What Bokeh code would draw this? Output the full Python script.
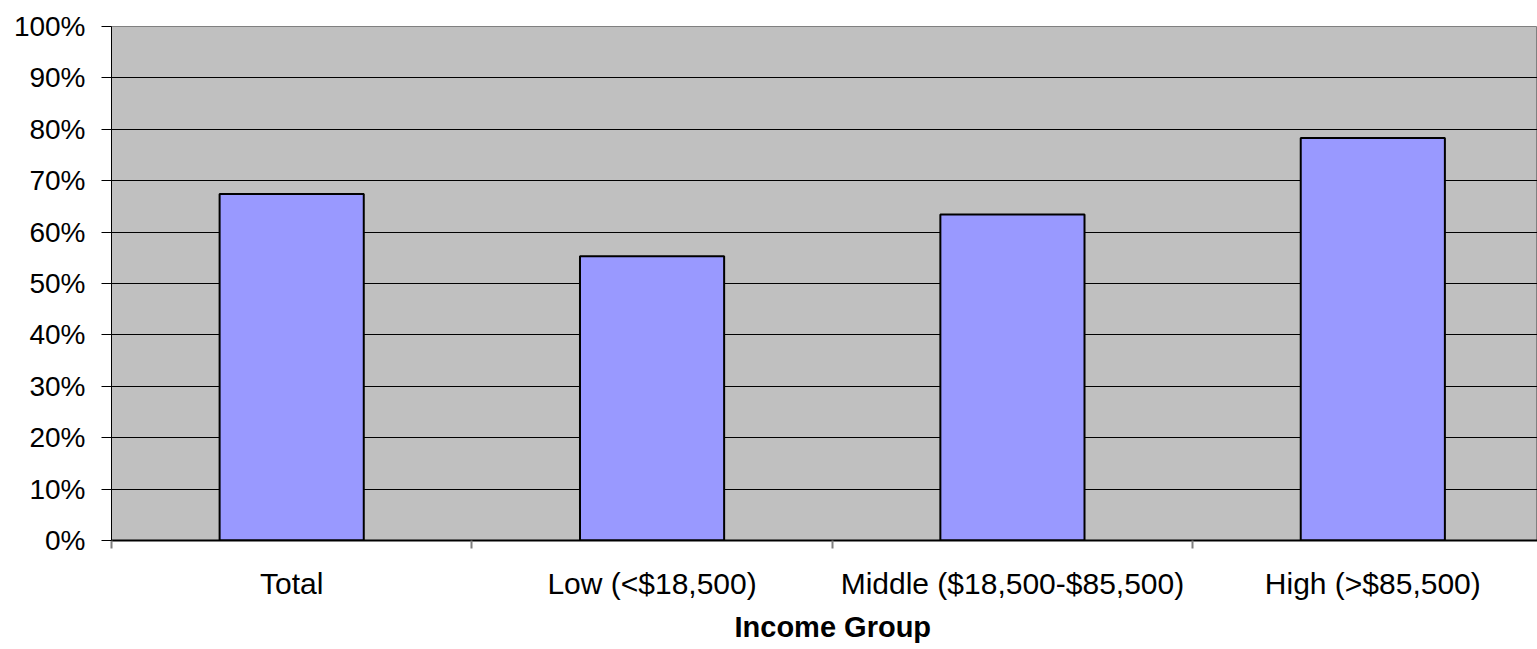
from bokeh.plotting import figure
from bokeh.models import FixedTicker, NumeralTickFormatter, Title, ColumnDataSource
from bokeh.embed import file_html
from bokeh.resources import INLINE

# Share of each income group (fraction of 1)
groups = ["Total", "Low (<$18,500)", "Middle ($18,500-$85,500)", "High (>$85,500)"]
shares = [0.674, 0.553, 0.634, 0.783]
y_ticks = [0.0, 0.1, 0.2, 0.3, 0.4, 0.5, 0.6, 0.7, 0.8, 0.9, 1.0]
x_title = "Income Group"

FONT = "Liberation Sans"

centers = [i + 0.5 for i in range(len(groups))]
src = ColumnDataSource(dict(x=centers, top=shares, name=groups))

p = figure(
    width=1537, height=649,
    x_range=(0, 3.957), y_range=(0, 1.0),
    output_backend="svg", toolbar_location=None,
    min_border_left=111, min_border_right=0,
    min_border_top=26, min_border_bottom=109,
    border_fill_color="white",
)
p.background_fill_color = "#C0C0C0"
p.outline_line_color = "#808080"
p.outline_line_width = 1

p.vbar(x="x", top="top", width=0.40, bottom=0, source=src,
       fill_color="#9999FF", line_color="black", line_width=2)

# Y axis
p.yaxis.ticker = FixedTicker(ticks=y_ticks)
p.yaxis.formatter = NumeralTickFormatter(format="0%")
p.yaxis.major_label_text_font = FONT
p.yaxis.major_label_text_font_size = "28px"
p.yaxis.major_label_text_color = "black"
p.yaxis.major_label_standoff = 16
p.yaxis.major_tick_out = 10
p.yaxis.major_tick_in = 0
p.yaxis.major_tick_line_color = "black"
p.yaxis.minor_tick_line_color = None
p.yaxis.axis_line_color = "black"
p.yaxis.axis_line_width = 1

# X axis: category labels at centers, boundary ticks as minor ticks
p.xaxis.ticker = FixedTicker(ticks=centers, minor_ticks=[0, 1, 2, 3, 4])
p.xaxis.major_label_overrides = {c: g for c, g in zip(centers, groups)}
p.xaxis.major_label_text_font = FONT
p.xaxis.major_label_text_font_size = "30px"
p.xaxis.major_label_text_color = "black"
p.xaxis.major_label_standoff = 18
p.xaxis.major_tick_line_color = None
p.xaxis.minor_tick_out = 8
p.xaxis.minor_tick_in = 0
p.xaxis.minor_tick_line_color = "#808080"
p.xaxis.minor_tick_line_width = 2
p.xaxis.axis_line_color = "black"
p.xaxis.axis_line_width = 2

# Gridlines (interior only, top edge is the gray outline)
p.xgrid.grid_line_color = None
p.ygrid.ticker = FixedTicker(ticks=y_ticks[1:-1])
p.ygrid.grid_line_color = "black"
p.ygrid.grid_line_width = 1

# Axis title, centred under the full category span
title = Title(text=x_title, align="left", offset=623,
              text_font=FONT, text_font_size="29px", text_font_style="bold",
              text_color="black", standoff=13)
p.add_layout(title, "below")

open("out.html", "w").write(file_html(p, INLINE))
